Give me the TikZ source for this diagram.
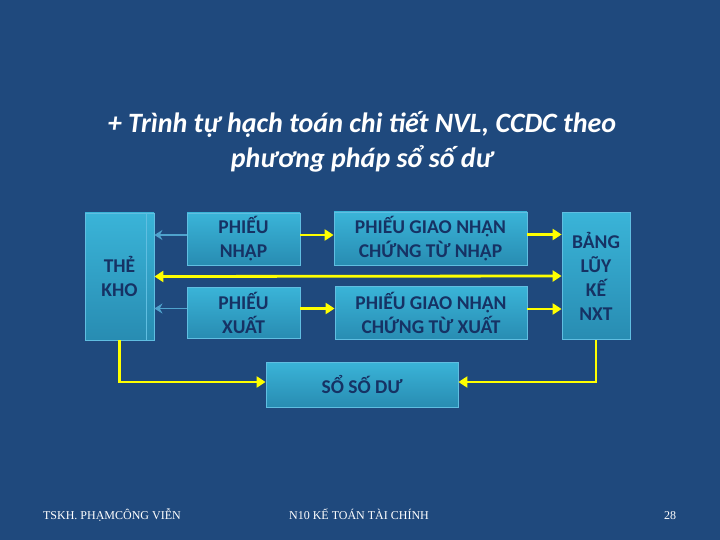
\documentclass[tikz,border=0pt]{standalone}
\usepackage{fontspec}
\setmainfont{Carlito}
\newfontfamily\footfont{Liberation Serif}
\usepackage{tikz}
\usetikzlibrary{arrows.meta}

\definecolor{slidebg}{RGB}{31,73,125}
\definecolor{boxtop}{RGB}{58,180,216}
\definecolor{boxbot}{RGB}{40,140,178}
\definecolor{boxline}{RGB}{96,190,225}
\definecolor{boxtext}{RGB}{22,50,100}
\definecolor{thinarrow}{RGB}{79,163,205}
\definecolor{flowline}{RGB}{255,255,0}

\begin{document}
\begin{tikzpicture}[x=1pt,y=-1pt,
    card/.style={draw=boxline, line width=0.8pt, top color=boxtop, bottom color=boxbot,
        align=center, inner sep=0pt, text=boxtext, font=\bfseries\fontsize{19.5}{24}\selectfont},
    flow/.style={draw=flowline, line width=2.8pt, -{Triangle[length=9pt,width=11pt]}},
    back/.style={draw=thinarrow, line width=1.8pt, -{Stealth[length=8pt,width=10pt]}},
    foot/.style={text=white, anchor=base, font=\footfont\fontsize{12}{14}\selectfont}
]

% Background
\fill[slidebg] (0,0) rectangle (720,540);
\useasboundingbox (0,0) rectangle (720,540);

% Title
\node[text=white, align=center, font=\bfseries\itshape\fontsize{28}{35}\selectfont] (title) at (362,142)
    {+ Trình tự hạch toán chi tiết NVL, CCDC theo\\phương pháp sổ số dư};

% Boxes
\node[card, minimum width=69pt, minimum height=127pt] (tk) at (119.5,276.5) {THẺ\\KHO};
\draw[boxline, line width=0.8pt] (146,213) -- (146,340);
\node[card, minimum width=113pt, minimum height=52pt] (pn) at (243.5,239) {PHIẾU\\NHẬP};
\node[card, minimum width=113pt, minimum height=51pt] (px) at (243.5,312.5) {PHIẾU\\XUẤT};
\node[card, minimum width=193pt, minimum height=53pt] (gnn) at (430.5,238.5) {PHIẾU GIAO NHẬN\\CHỨNG TỪ NHẬP};
\node[card, minimum width=192pt, minimum height=53pt] (gnx) at (431,313) {PHIẾU GIAO NHẬN\\CHỨNG TỪ XUẤT};
\node[card, minimum width=68pt, minimum height=127pt] (bl) at (596,276) {BẢNG\\LŨY\\KẾ\\NXT};
\node[card, minimum width=192pt, minimum height=45pt] (ssd) at (362,384.5) {SỔ SỐ DƯ};

% Light blue arrows back to the card
\draw[back] ([yshift=4pt]pn.west) -- ([yshift=4pt]pn.west -| tk.east);
\draw[back] ([yshift=4pt]px.west) -- ([yshift=4pt]px.west -| tk.east);

% Yellow flow
\draw[flow] ([yshift=4pt]pn.east) -- ([yshift=4pt]pn.east -| gnn.west);
\draw[flow] ([yshift=4pt]px.east) -- ([yshift=4pt]px.east -| gnx.west);
\draw[flow] ([yshift=4pt]gnn.east) -- ([yshift=4pt]gnn.east -| bl.west);
\draw[flow] ([yshift=4pt]gnx.east) -- ([yshift=4pt]gnx.east -| bl.west);
\draw[flow, {Triangle[length=9pt,width=11pt]}-{Triangle[length=9pt,width=11pt]}] (tk.east) -- (bl.west);
\draw[flow] (tk.south) |- ([yshift=2.5pt]ssd.west);
\draw[flow] (bl.south) |- ([yshift=2.5pt]ssd.east);

% Footer
\node[foot] (author) at (112,519.5) {TSKH. PHẠMCÔNG VIỄN};
\node[foot] (course) at (359,519.5) {N10 KẾ TOÁN TÀI CHÍNH};
\node[foot] (page) at (670,519.5) {28};

\end{tikzpicture}
\end{document}
